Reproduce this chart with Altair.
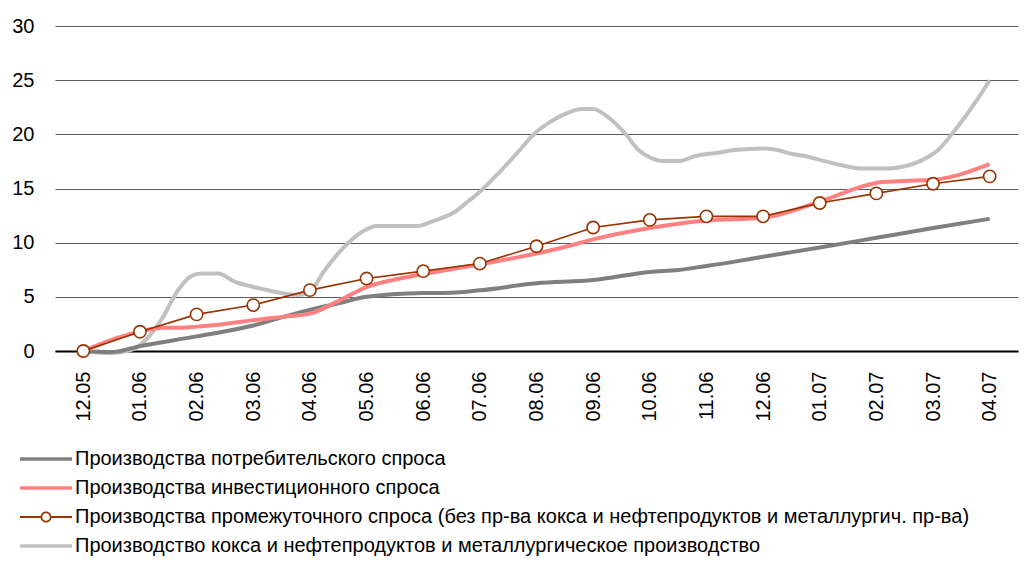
import json
import altair as alt
import pandas as pd

months = ["12.05", "01.06", "02.06", "03.06", "04.06", "05.06", "06.06", "07.06", "08.06",
          "09.06", "10.06", "11.06", "12.06", "01.07", "02.07", "03.07", "04.07"]

series_names = [
    "Производства потребительского спроса",
    "Производства инвестиционного спроса",
    "Производства промежуточного спроса (без пр-ва кокса и нефтепродуктов и металлургич. пр-ва)",
    "Производство кокса и нефтепродуктов и металлургическое производство",
]
series_colors = ["#7f7f7f", "#ff8080", "#993300", "#c0c0c0"]
series_widths = [4, 4, 1.6, 4]

# consumer demand (dark grey)
consumer_t = [0, 0.5, 1, 2, 3, 3.5, 4, 4.5, 5, 6, 6.5, 7, 8, 9, 10, 10.5, 11, 11.5, 12, 13, 14, 15, 16]
consumer_v = [0, -0.1, 0.45, 1.35, 2.35, 3.1, 3.8, 4.4, 5.0, 5.35, 5.38, 5.6, 6.25, 6.55, 7.3, 7.48, 7.85,
              8.25, 8.7, 9.55, 10.45, 11.35, 12.2]

# investment demand (pink)
invest_t = [0, 0.6, 1, 1.4, 1.75, 2, 2.5, 3, 3.5, 4, 4.5, 5, 5.5, 6, 7, 8, 8.5, 9, 10, 11, 12,
            13, 13.4, 13.75, 14.1, 14.5, 15, 16]
invest_v = [0, 1.2, 1.8, 2.15, 2.15, 2.25, 2.5, 2.85, 3.15, 3.45, 4.6, 5.9, 6.6, 7.1, 8.0, 9.0, 9.6,
            10.3, 11.35, 12.05, 12.3, 13.8, 14.55, 15.2, 15.6, 15.7, 15.8, 17.25]

# intermediate demand (dark red, with markers)
inter_t = list(range(17))
inter_v = [0, 1.78, 3.38, 4.24, 5.62, 6.69, 7.37, 8.07, 9.67, 11.4, 12.1, 12.43, 12.43, 13.66,
           14.55, 15.44, 16.12]

# coke, oil products and metallurgy (light grey)
metal_t = [0, 0.5, 0.85, 1.0, 1.38, 1.67, 1.9, 2.08, 2.38, 2.67, 2.97, 3.26, 3.79, 4.0, 4.26, 4.67,
           4.97, 5.17, 5.91, 6.15, 6.56, 6.79, 7.0, 7.38, 7.68, 7.97, 8.26, 8.56, 8.79, 9.0, 9.21,
           9.56, 9.8, 10.03, 10.2, 10.53, 10.8, 11.2, 11.5, 12.0, 12.21, 12.5, 12.74, 13.03, 13.39,
           13.74, 14.21, 14.5, 14.8, 15.09, 15.39, 15.78, 16.0]
metal_v = [0, -0.2, 0.1, 0.55, 2.9, 5.6, 6.9, 7.15, 7.15, 6.4, 5.95, 5.6, 5.17, 5.5, 7.45, 9.95,
           11.15, 11.55, 11.55, 11.95, 12.85, 13.8, 14.7, 16.7, 18.4, 20.1, 21.2, 22.0, 22.35, 22.35,
           21.8, 20.1, 18.55, 17.8, 17.55, 17.55, 18.0, 18.3, 18.55, 18.7, 18.6, 18.2, 18.0, 17.6,
           17.15, 16.85, 16.85, 17.05, 17.6, 18.55, 20.4, 23.2, 25.0]

series_t = [consumer_t, invest_t, inter_t, metal_t]
series_v = [consumer_v, invest_v, inter_v, metal_v]

FONT = "Liberation Sans"

# legend symbols: custom paths (unit = 10 px), line from box-left to 52 px right
thick = "M-1,-0.18L4.2,-0.18L4.2,0.18L-1,0.18Z"
marker_sym = ("M-1,-0.09L1.05,-0.09L1.05,0.09L-1,0.09Z"
              "M2.15,-0.09L4.2,-0.09L4.2,0.09L2.15,0.09Z"
              "M2.15,0A0.55,0.55 0 1,0 1.05,0A0.55,0.55 0 1,0 2.15,0Z"
              "M1.98,0A0.38,0.38 0 1,1 1.22,0A0.38,0.38 0 1,1 1.98,0Z")
legend_shapes = [thick, thick, marker_sym, thick]

x_enc = alt.X("t:Q",
              scale=alt.Scale(domain=[-0.5, 16.5], nice=False, zero=False),
              axis=alt.Axis(values=list(range(len(months))),
                            labelExpr=json.dumps(months, ensure_ascii=False) + "[datum.value]",
                            labelAngle=270, labelFontSize=20, labelFont=FONT, labelColor="black",
                            labelPadding=20, ticks=False, grid=False, domain=True,
                            domainColor="black", domainWidth=2, title=None))
y_enc = alt.Y("v:Q",
              scale=alt.Scale(domain=[0, 30], nice=False, zero=False),
              axis=alt.Axis(values=[0, 5, 10, 15, 20, 25, 30], labelFontSize=20, labelFont=FONT,
                            labelColor="black", labelPadding=21, ticks=False, domain=False,
                            grid=True, gridColor="#595959", gridWidth=1, title=None))

line_order = [3, 0, 1, 2]
layers = []
for i in line_order:
    df = pd.DataFrame({"t": series_t[i], "v": series_v[i]})
    interp = "linear" if i == 2 else "monotone"
    layers.append(
        alt.Chart(df).mark_line(color=series_colors[i], strokeWidth=series_widths[i],
                                interpolate=interp, clip=False)
        .encode(x=x_enc, y=y_enc)
    )

marker_df = pd.DataFrame({"t": inter_t, "v": inter_v})
markers = alt.Chart(marker_df).mark_point(
    shape="circle", filled=True, fill="white", stroke=series_colors[2],
    strokeWidth=1.6, size=150, opacity=1
).encode(x=x_enc, y=y_enc)


def make_legend():
    return alt.Legend(orient="none", legendX=-35, legendY=423, direction="vertical",
                      title=None, labelFontSize=20, labelFont=FONT,
                      labelColor="black", symbolSize=400, symbolStrokeWidth=0,
                      labelOffset=35, rowPadding=9, padding=0, labelLimit=0,
                      symbolOpacity=1)


legend_df = pd.DataFrame({"series": series_names})
legend_layer = alt.Chart(legend_df).transform_filter("false").mark_point(
    filled=True, strokeWidth=0, opacity=1
).encode(
    color=alt.Color("series:N",
                    scale=alt.Scale(domain=series_names, range=series_colors),
                    legend=make_legend()),
    shape=alt.Shape("series:N",
                    scale=alt.Scale(domain=series_names, range=legend_shapes),
                    legend=make_legend()),
)

chart = alt.layer(*layers, markers, legend_layer).properties(
    width=963, height=325,
    autosize=alt.AutoSizeParams(type="none"),
    padding={"left": 47, "top": 18, "right": 7, "bottom": 209},
    background="white",
).configure_view(stroke=None, strokeWidth=0)

chart.save("out.html", embed_options={"renderer": "svg", "actions": False})
